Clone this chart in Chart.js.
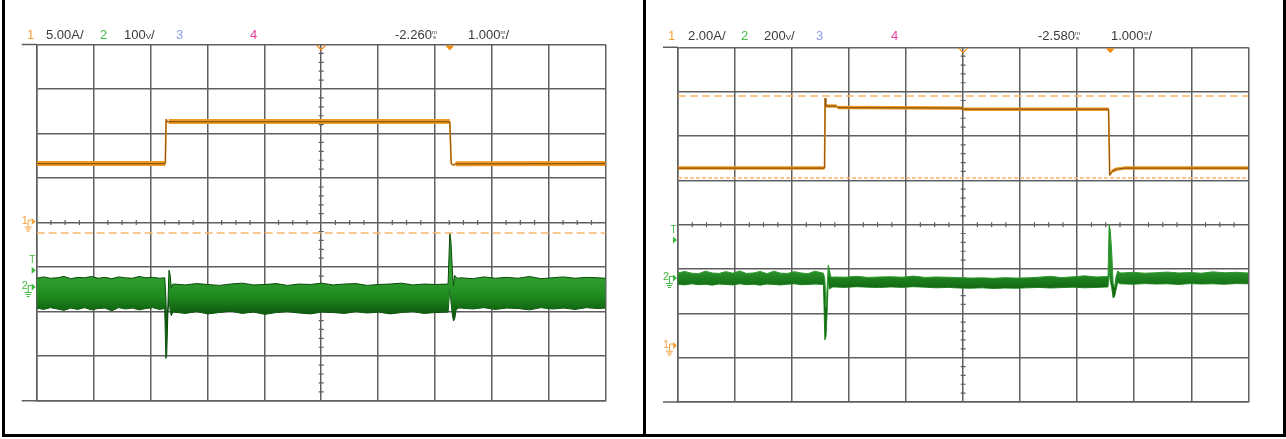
<!DOCTYPE html>
<html>
<head>
<meta charset="utf-8">
<script src="https://cdn.jsdelivr.net/npm/chart.js@4.4.1/dist/chart.umd.min.js"></script>
<style>
html,body{margin:0;padding:0;background:#fff;}
#wrap{position:relative;width:1286px;height:439px;overflow:hidden;font-family:"Liberation Sans",Arial,sans-serif;background:#fff;}
canvas{position:absolute;top:0;}
.bar{position:absolute;background:#000;}
.lbl{position:absolute;font-size:13px;color:#3a3a3a;line-height:14px;white-space:nowrap;}
.stk{display:inline-block;font-size:6px;line-height:5px;vertical-align:top;text-align:center;margin-top:2px;}
.sv{font-size:8px;}
.c1{color:#f2a23c;} .c2{color:#45bb45;} .c3{color:#8ea3e6;} .c4{color:#e8409a;}
</style>
</head>
<body>
<div id="wrap">
  <canvas id="left" width="638" height="434" style="left:5px;width:638px;height:434px"></canvas>
  <canvas id="right" width="637" height="434" style="left:646px;width:637px;height:434px"></canvas>

  <div class="lbl c1" style="left:27px;top:28px">1</div>
  <div class="lbl" style="left:46px;top:28px">5.00A/</div>
  <div class="lbl c2" style="left:100px;top:28px">2</div>
  <div class="lbl" style="left:124px;top:28px">100<span class="sv">V</span>/</div>
  <div class="lbl c3" style="left:176px;top:28px">3</div>
  <div class="lbl c4" style="left:250px;top:28px">4</div>
  <div class="lbl" style="left:395px;top:28px">-2.260<span class="stk">m<br>s</span></div>
  <div class="lbl" style="left:468px;top:28px">1.000<span class="stk">m<br>s</span>/</div>

  <div class="lbl c1" style="left:668px;top:29px">1</div>
  <div class="lbl" style="left:688px;top:29px">2.00A/</div>
  <div class="lbl c2" style="left:741px;top:29px">2</div>
  <div class="lbl" style="left:764px;top:29px">200<span class="sv">V</span>/</div>
  <div class="lbl c3" style="left:816px;top:29px">3</div>
  <div class="lbl c4" style="left:891px;top:29px">4</div>
  <div class="lbl" style="left:1038px;top:29px">-2.580<span class="stk">m<br>s</span></div>
  <div class="lbl" style="left:1111px;top:29px">1.000<span class="stk">m<br>s</span>/</div>

  <div class="bar" style="left:2px;top:0;width:3px;height:437px"></div>
  <div class="bar" style="left:643px;top:0;width:3px;height:437px"></div>
  <div class="bar" style="left:1283px;top:0;width:3px;height:437px"></div>
  <div class="bar" style="left:2px;top:434px;width:1284px;height:3px"></div>
</div>
<script>
// ---------------- LEFT SCOPE: ch1 5 A/div, ch2 100 V/div, 1 ms/div ----------------
const leftTimeRange = [-7.26, 2.74];           // ms, relative to trigger
const leftCh1Time = [-7.26, -5.00, -4.985, -4.965, -4.94, 0.00, 0.025, 0.06, 0.10, 2.74];
const leftCh1Amp  = [6.63, 6.63, 11.6, 11.3, 11.34, 11.34, 6.63, 6.45, 6.6, 6.63];
const leftCh1Cursor = [-1.18];                 // A
const leftTrigLevel = 40;                      // V on ch2

const leftCh2Time = [
  -7.26,-7.14,-7.02,-6.90,-6.78,-6.66,-6.54,-6.42,-6.30,-6.18,-6.06,-5.94,-5.82,-5.70,-5.58,-5.46,-5.34,-5.22,-5.10,-5.01,
  -4.99,-4.975,-4.955,-4.935,-4.915,-4.895,-4.875,
  -4.85,-4.65,-4.45,-4.25,-4.05,-3.85,-3.65,-3.45,-3.25,-3.05,-2.85,-2.65,-2.45,-2.25,-2.05,-1.85,-1.65,-1.45,-1.25,-1.05,-0.85,-0.65,-0.45,-0.25,-0.03,
  0.00,0.02,0.045,0.065,0.085,0.11,0.14,
  0.20,0.40,0.60,0.80,1.00,1.20,1.40,1.60,1.80,2.00,2.20,2.40,2.60,2.74];
const leftCh2Top = [
  22,25,22,23,26,21,24,23,26,22,24,21,25,23,22,26,23,24,22,23,
  -20,-90,-40,40,30,0,8,
  9,7,10,8,6,9,11,7,8,10,6,9,8,11,7,9,10,6,8,9,11,7,9,8,9,
  124,105,40,5,28,25,22,
  23,21,25,22,24,22,26,21,23,25,22,24,23,22];
const leftCh2Bot = [
  -45,-48,-44,-47,-50,-45,-48,-44,-49,-46,-45,-51,-44,-47,-45,-49,-46,-44,-48,-46,
  -158,-150,-60,-20,-50,-62,-56,
  -54,-57,-53,-58,-55,-52,-57,-54,-59,-55,-53,-56,-58,-54,-55,-57,-53,-56,-54,-58,-55,-53,-57,-55,-54,
  0,-30,-60,-74,-70,-50,-45,
  -45,-47,-44,-48,-45,-46,-49,-44,-47,-45,-48,-44,-46,-45];

// ---------------- RIGHT SCOPE: ch1 2 A/div, ch2 200 V/div, 1 ms/div ----------------
const rightTimeRange = [-7.58, 2.42];
const rightCh1Time = [-7.58, -5.01, -5.00, -4.99, -4.80, -4.78, -2.60, -2.58, -0.03, -0.01, 0.03, 0.10, 0.25, 2.42];
const rightCh1Amp  = [8.05, 8.05, 11.2, 10.85, 10.85, 10.78, 10.76, 10.71, 10.71, 7.73, 7.9, 8.0, 8.05, 8.05];
const rightCh1Cursor = [11.3, 7.6];
const rightTrigLevel = 176;

const rightCh2Time = [
  -7.58,-7.46,-7.34,-7.22,-7.10,-6.98,-6.86,-6.74,-6.62,-6.50,-6.38,-6.26,-6.14,-6.02,-5.90,-5.78,-5.66,-5.54,-5.42,-5.30,-5.18,-5.03,
  -5.005,-4.985,-4.965,-4.945,-4.925,-4.90,-4.88,
  -4.85,-4.65,-4.45,-4.25,-4.05,-3.85,-3.65,-3.45,-3.25,-3.05,-2.85,-2.65,-2.45,-2.25,-2.05,-1.85,-1.65,-1.45,-1.25,-1.05,-0.85,-0.65,-0.45,-0.25,-0.04,
  -0.02,0.00,0.025,0.05,0.075,0.10,0.13,0.17,
  0.20,0.40,0.60,0.80,1.00,1.20,1.40,1.60,1.80,2.00,2.20,2.42];
const rightCh2Top = [
  27,34,26,24,35,27,25,33,26,36,25,27,34,24,35,26,25,33,27,24,35,26,
  0,-130,-40,63,40,10,8,
  9,8,12,7,9,10,8,13,7,9,8,6,4,5,3,6,4,5,8,12,6,10,14,9,11,
  243,220,120,-20,-40,10,36,28,
  27,30,26,28,31,27,29,26,32,28,30,27];
const rightCh2Bot = [
  -24,-27,-22,-26,-24,-28,-23,-25,-27,-22,-26,-24,-28,-23,-25,-27,-24,-22,-26,-25,-23,-25,
  -275,-260,-150,-10,-45,-42,-37,
  -36,-38,-35,-37,-39,-36,-38,-35,-37,-40,-38,-41,-42,-40,-43,-41,-42,-40,-38,-41,-39,-37,-40,-38,-36,
  30,-10,-40,-86,-80,-50,-15,-22,
  -22,-24,-21,-23,-22,-25,-21,-23,-22,-24,-21,-22];

// ---------------- styling ----------------
const GRID = '#5f5f5f';
const ORANGE = '#ee9a22';
const ORANGE_CORE = '#8a5416';
const ORANGE_MARK = '#f2a23c';
const CURSOR = '#f6b66c';
const GREEN_MARK = '#3cb83c';
const FONT = '"Liberation Sans", Arial, sans-serif';

function zip(xs, ys){ return xs.map((x,i)=>({x:x, y:ys[i]})); }

function groundMarker(ctx, L, y, label, color){
  ctx.fillStyle = color; ctx.strokeStyle = color; ctx.lineWidth = 1;
  ctx.font = '11px ' + FONT; ctx.textAlign = 'center'; ctx.textBaseline = 'middle';
  ctx.fillText(label, L - 12, y - 2);
  ctx.beginPath();
  ctx.moveTo(L - 8.5, y + 4); ctx.lineTo(L - 8.5, y - 2.5); ctx.lineTo(L - 5, y - 2.5);
  ctx.moveTo(L - 12, y + 4.5); ctx.lineTo(L - 5, y + 4.5);
  ctx.moveTo(L - 11, y + 6.5); ctx.lineTo(L - 6, y + 6.5);
  ctx.moveTo(L - 10, y + 8.5); ctx.lineTo(L - 7, y + 8.5);
  ctx.stroke();
  ctx.beginPath(); ctx.moveTo(L - 5, y - 4.5); ctx.lineTo(L - 1, y - 1); ctx.lineTo(L - 5, y + 2.5); ctx.closePath(); ctx.fill();
}

const scopeDecor = {
  id: 'scopeDecor',
  beforeDatasetsDraw(chart){
    const ctx = chart.ctx, a = chart.chartArea, xg = chart.scales.xg, yg = chart.scales.yg;
    ctx.save();
    ctx.strokeStyle = GRID; ctx.lineWidth = 1.5;
    ctx.beginPath();
    ctx.moveTo(a.left - 15, a.top); ctx.lineTo(a.left, a.top);
    ctx.moveTo(a.left - 15, a.bottom); ctx.lineTo(a.left, a.bottom);
    ctx.stroke();
    const cx = xg.getPixelForValue(5), cy = yg.getPixelForValue(4);
    ctx.lineWidth = 1.2;
    ctx.beginPath();
    for (let k = 1; k < 40; k++){
      if (k % 4 === 0) continue;
      const px = xg.getPixelForValue(k / 4);
      ctx.moveTo(px, cy - 2.5); ctx.lineTo(px, cy + 2.5);
    }
    for (let k = 1; k < 40; k++){
      if (k % 5 === 0) continue;
      const py = yg.getPixelForValue(k / 5);
      ctx.moveTo(cx - 2.5, py); ctx.lineTo(cx + 2.5, py);
    }
    ctx.stroke();
    ctx.restore();
  },
  afterDraw(chart, args, opts){
    const ctx = chart.ctx, a = chart.chartArea;
    const xg = chart.scales.xg, x = chart.scales.x, y1 = chart.scales.y1, y2 = chart.scales.y2;
    const L = a.left;
    ctx.save();
    groundMarker(ctx, L, y1.getPixelForValue(0), '1', ORANGE_MARK);
    groundMarker(ctx, L, y2.getPixelForValue(0), '2', GREEN_MARK);
    const ty = y2.getPixelForValue(opts.trig);
    ctx.fillStyle = GREEN_MARK;
    ctx.font = '10px ' + FONT; ctx.textAlign = 'center'; ctx.textBaseline = 'middle';
    ctx.fillText('T', L - 4.5, ty - 10);
    ctx.beginPath(); ctx.moveTo(L - 5, ty - 3.5); ctx.lineTo(L - 1, ty); ctx.lineTo(L - 5, ty + 3.5); ctx.closePath(); ctx.fill();
    const cx = xg.getPixelForValue(5);
    ctx.strokeStyle = '#f08c1a'; ctx.lineWidth = 1.2;
    ctx.beginPath(); ctx.moveTo(cx - 4.5, a.top + 0.5); ctx.lineTo(cx, a.top + 5.5); ctx.lineTo(cx + 4.5, a.top + 0.5); ctx.stroke();
    const tx = x.getPixelForValue(0);
    ctx.fillStyle = '#f08c10';
    ctx.beginPath(); ctx.moveTo(tx - 4.5, a.top + 1); ctx.lineTo(tx + 4.5, a.top + 1); ctx.lineTo(tx, a.top + 6); ctx.closePath(); ctx.fill();
    ctx.restore();
  }
};

function gridScale(axis, max){
  return {
    type: 'linear', axis: axis, position: axis === 'x' ? 'bottom' : 'left',
    min: 0, max: max,
    ticks: {display: false, stepSize: 1},
    grid: {color: GRID, lineWidth: 1.5, drawTicks: false},
    border: {display: true, color: GRID, width: 1.5}
  };
}

// thin line on the near-vertical edges of the current trace
function edgeWidth(thin){
  return (c) => Math.abs(c.p1.x - c.p0.x) < 3 ? thin : undefined;
}

function buildScope(id, cfg){
  const datasets = [];
  datasets.push({data: zip(cfg.t1, cfg.a1), xAxisID: 'x', yAxisID: 'y1', borderColor: ORANGE_CORE, borderWidth: 1.2, fill: false,
    segment: {borderWidth: edgeWidth(1)}});
  datasets.push({data: zip(cfg.t1, cfg.a1), xAxisID: 'x', yAxisID: 'y1', borderColor: ORANGE, borderWidth: cfg.w1, fill: false,
    segment: {borderWidth: edgeWidth(1.8)}});
  cfg.cursors.forEach((c, i) => {
    datasets.push({data: [{x: cfg.range[0], y: c}, {x: cfg.range[1], y: c}], xAxisID: 'x', yAxisID: 'y1',
      borderColor: CURSOR, borderWidth: 1.5, borderDash: cfg.dashes[i], fill: false});
  });
  datasets.push({data: zip(cfg.t2, cfg.top2), xAxisID: 'x', yAxisID: 'y2', borderColor: cfg.edge, borderWidth: 1, fill: '+1',
    backgroundColor: (c) => {
      const ch = c.chart; if (!ch.chartArea) return cfg.band[1];
      const s = ch.scales.y2;
      const g = ch.ctx.createLinearGradient(0, s.getPixelForValue(cfg.gradRange[0]), 0, s.getPixelForValue(cfg.gradRange[1]));
      g.addColorStop(0, cfg.band[0]); g.addColorStop(0.55, cfg.band[1]); g.addColorStop(1, cfg.band[2]);
      return g;
    }});
  datasets.push({data: zip(cfg.t2, cfg.bot2), xAxisID: 'x', yAxisID: 'y2', borderColor: cfg.edge, borderWidth: 1, fill: false});

  return new Chart(document.getElementById(id), {
    type: 'line',
    data: {datasets: datasets},
    options: {
      responsive: false, animation: false, events: [],
      layout: {padding: cfg.pad},
      elements: {point: {radius: 0}, line: {tension: 0, borderCapStyle: 'butt', borderJoinStyle: 'bevel'}},
      plugins: {legend: {display: false}, tooltip: {enabled: false}, scopeDecor: {trig: cfg.trig}},
      scales: {
        xg: gridScale('x', 10),
        yg: gridScale('y', 8),
        x: {type: 'linear', display: false, min: cfg.range[0], max: cfg.range[1]},
        y1: {type: 'linear', display: false, min: cfg.y1[0], max: cfg.y1[1]},
        y2: {type: 'linear', display: false, min: cfg.y2[0], max: cfg.y2[1]}
      }
    },
    plugins: [scopeDecor]
  });
}

buildScope('left', {
  range: leftTimeRange, t1: leftCh1Time, a1: leftCh1Amp, w1: 5,
  cursors: leftCh1Cursor, dashes: [[8, 4]], trig: leftTrigLevel,
  t2: leftCh2Time, top2: leftCh2Top, bot2: leftCh2Bot,
  band: ['#2fa02f', '#1f8a1f', '#0d5c0d'], edge: '#0b4a0b', gradRange: [25, -56],
  y1: [-20, 20], y2: [-253, 547],
  pad: {left: 31.7, right: 37.3, top: 44.5, bottom: 33.3}
});
buildScope('right', {
  range: rightTimeRange, t1: rightCh1Time, a1: rightCh1Amp, w1: 3.5,
  cursors: rightCh1Cursor, dashes: [[8, 4], [4, 2]], trig: rightTrigLevel,
  t2: rightCh2Time, top2: rightCh2Top, bot2: rightCh2Bot,
  band: ['#2a8f2a', '#1a7a1a', '#136a13'], edge: '#2f9a2f', gradRange: [30, -40],
  y1: [-2.5, 13.5], y2: [-555, 1045],
  pad: {left: 32, right: 34.7, top: 47.3, bottom: 32}
});
</script>
</body>
</html>
